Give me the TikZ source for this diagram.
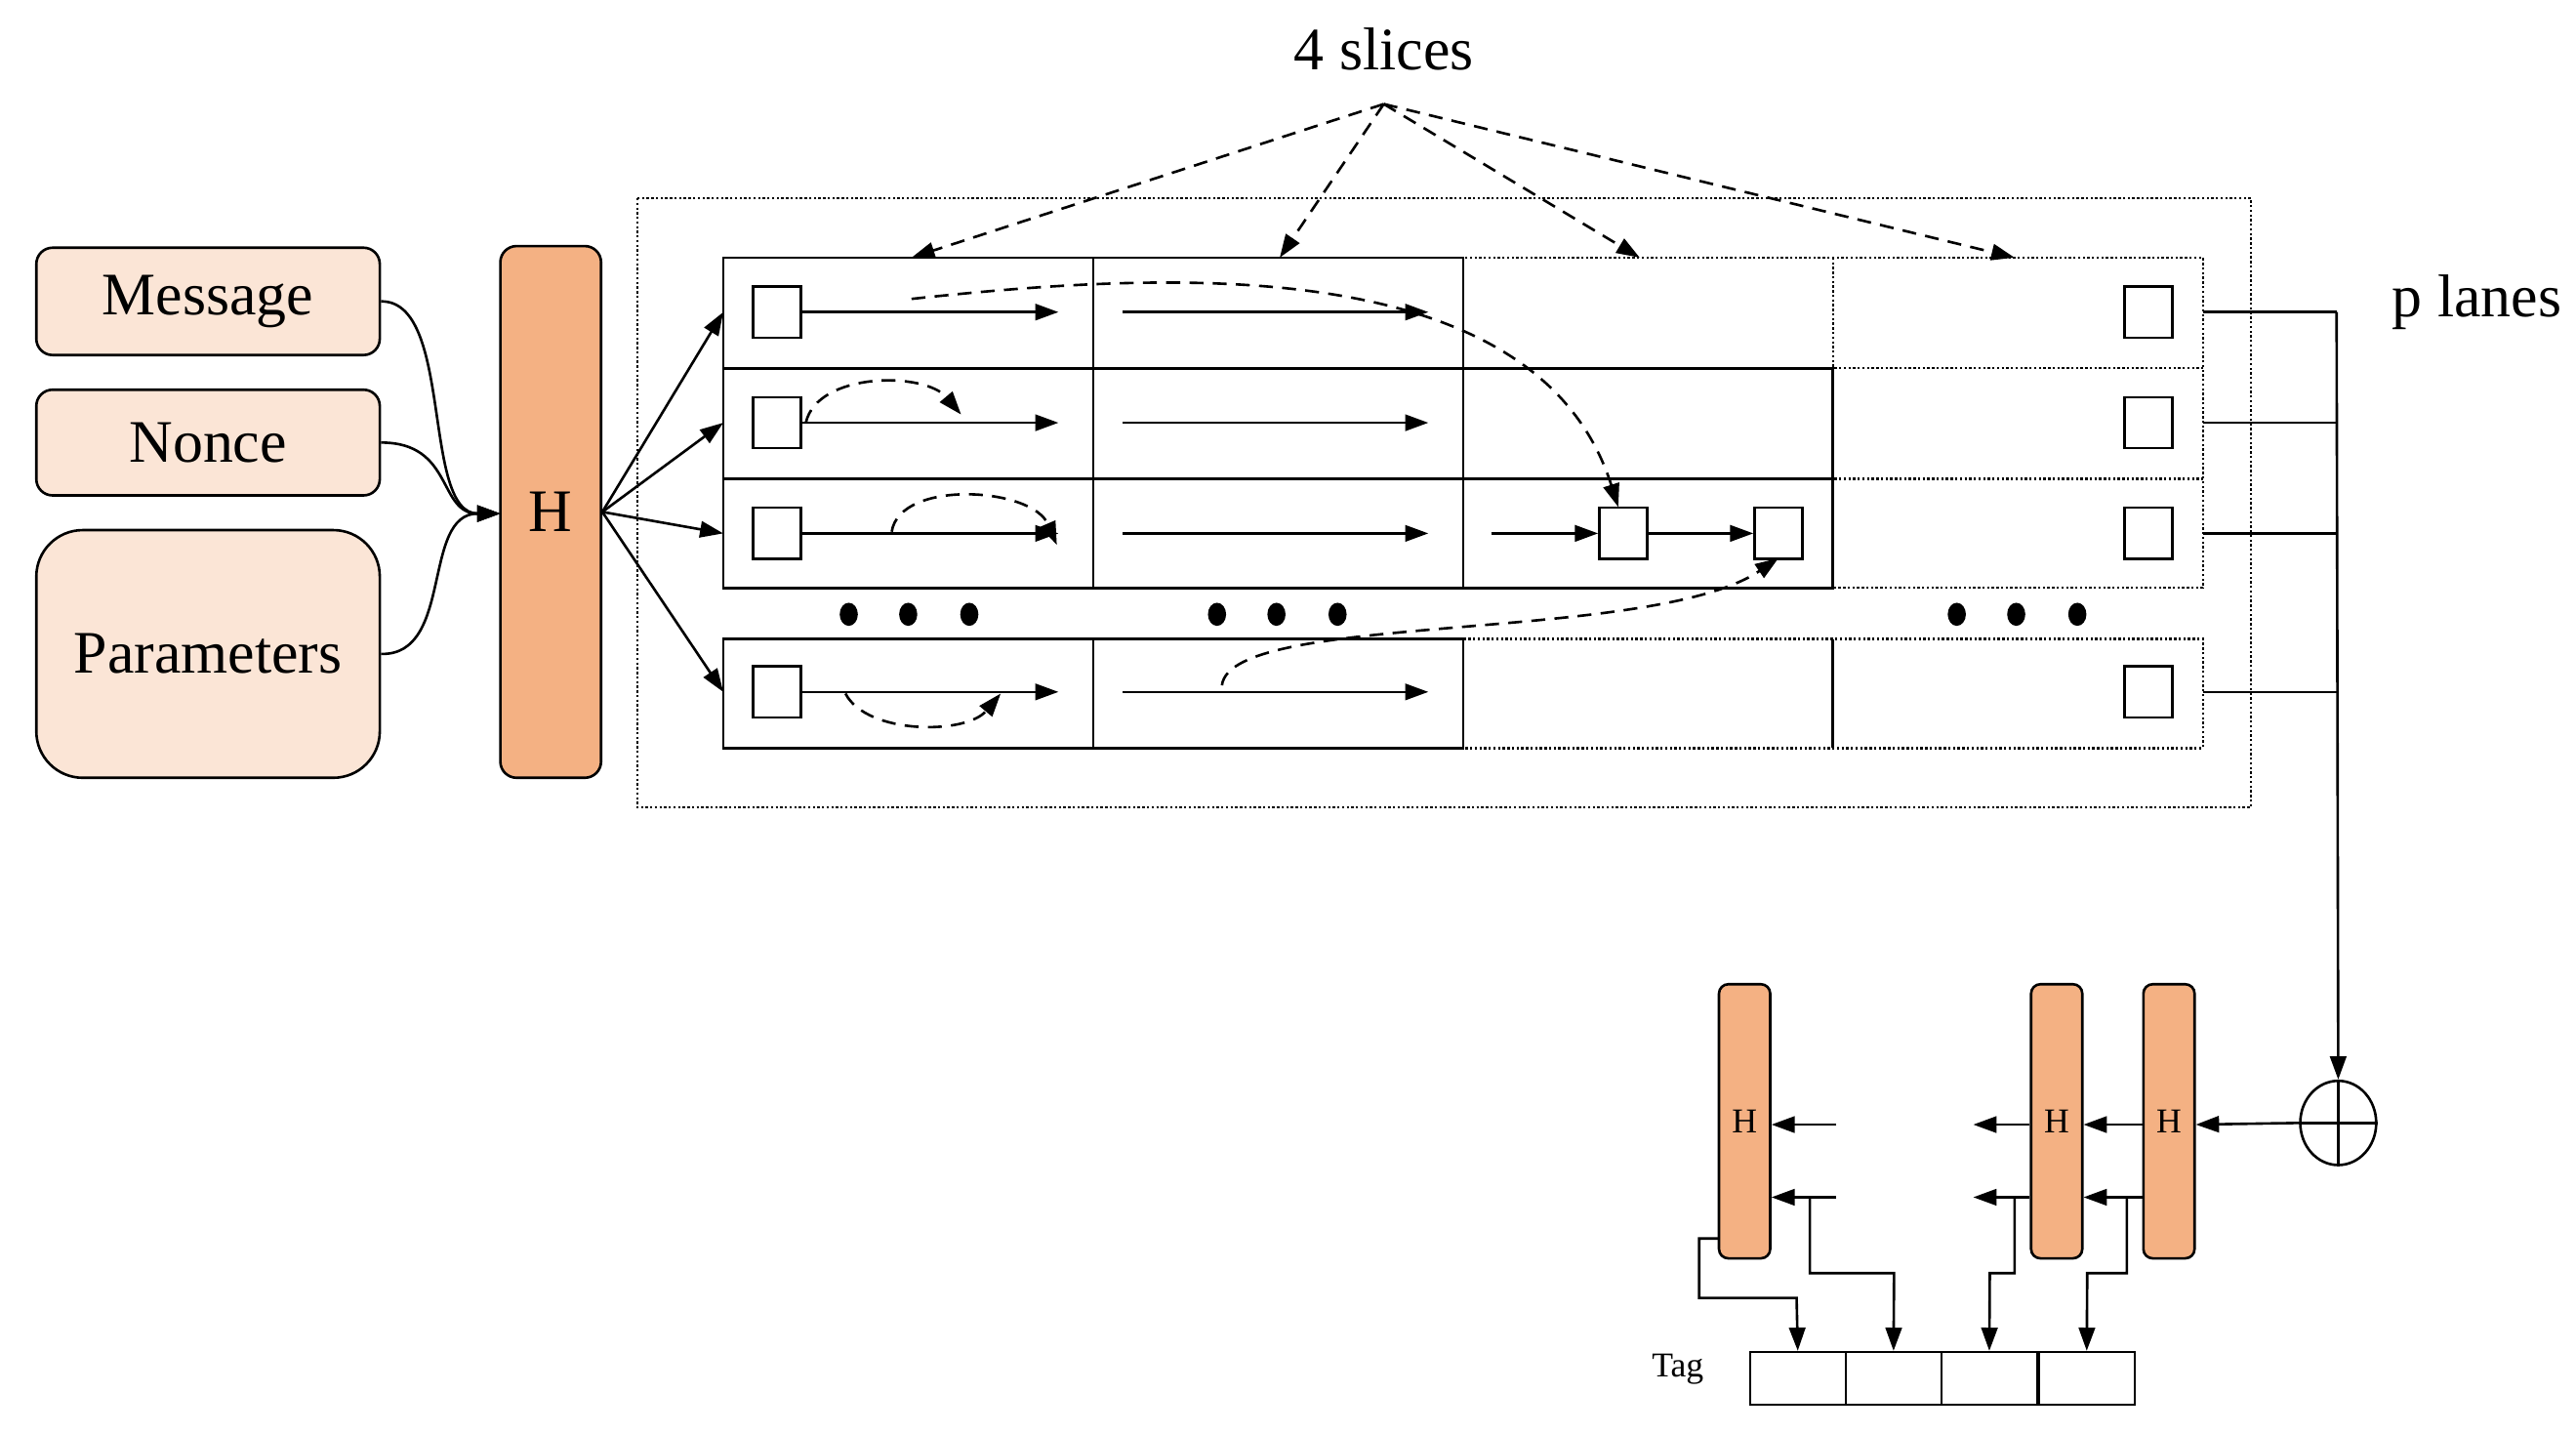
\documentclass[tikz,border=0pt]{standalone}
\usepackage{fontspec}
\setmainfont{Liberation Serif}
\usetikzlibrary{arrows.meta,shapes.geometric}
\definecolor{lightp}{HTML}{FBE5D6}
\definecolor{orng}{HTML}{F4B183}
\begin{document}
\begin{tikzpicture}[x=0.05cm,y=-0.05cm,line width=2.2pt,
  big/.style={font=\fontsize{52}{60}\selectfont},
  sm/.style={font=\fontsize{30}{34}\selectfont},
  inbox/.style={draw,rounded corners=14pt,fill=lightp,line width=2.2pt,big},
  hbox/.style={draw,rounded corners=8pt,fill=orng,line width=2.2pt},
  sq/.style={draw,line width=2pt,minimum width=1.45cm,minimum height=1.55cm,inner sep=0pt,fill=white},
  arr/.style={-{Triangle[length=20pt,width=14pt]},line width=2.2pt},
  darr/.style={-{Triangle[length=20pt,width=14pt]},line width=2.2pt,dash pattern=on 12pt off 8pt},
  dots/.style={dotted,line width=2pt}]
\useasboundingbox (0,0) rectangle (1560,868);
% inputs
\node[inbox,minimum width=10.4cm,minimum height=3.25cm] (msg) at (126,182.5) {Message};
\node[inbox,minimum width=10.4cm,minimum height=3.2cm] (non) at (126,268) {Nonce};
\node[inbox,rounded corners=40pt,minimum width=10.4cm,minimum height=7.5cm] (par) at (126,396) {Parameters};
\node[hbox,rounded corners=14pt,minimum width=3.05cm,minimum height=16.1cm,big] (H) at (333.5,310) {H};
\draw[arr] (msg.east) .. controls (275,182) and (255,311) .. (303,311);
\draw[arr] (non.east) .. controls (275,268) and (265,311) .. (303,311);
\draw[arr] (par.east) .. controls (275,397) and (255,311) .. (303,311);
% outer box
\draw[dots] (386,120) rectangle (1363,489);
% grid dotted parts
\draw[dots] (886,156) rectangle (1334,356);
\draw[dots] (886,223) -- (1334,223) (886,290) -- (1334,290) (1110,156) -- (1110,356);
\draw[dots] (886,387) rectangle (1334,453);
% solid parts
\draw (438,156) rectangle (886,356);
\draw (438,223) -- (886,223) (438,290) -- (886,290) (662,156) -- (662,356);
\draw (886,223) rectangle (1110,356) (886,290) -- (1110,290);
\draw (438,387) rectangle (886,453) (662,387) -- (662,453) (1110,387) -- (1110,453);
% squares
\foreach \y/\n in {189/a,256/b,323/c,419/d}{
  \node[sq] (l\n) at (470.5,\y) {};
  \node[sq] (r\n) at (1301,\y) {};
  \coordinate (e\n) at (438,\y);
  \draw[arr] (l\n.east) -- (641,\y);
  \draw[arr] (680,\y) -- (865,\y);
  \draw (1334,\y) -- (1415,\y);
}
\node[sq] (m1) at (983,323) {};
\node[sq] (m2) at (1077,323) {};
\draw[arr] (903,323) -- (m1.west);
\draw[arr] (m1.east) -- (m2.west);
\foreach \n in {a,b,c,d}{\draw[arr] (H.east) -- (e\n);}
% dashed curves
\draw[darr] (552,181) .. controls (700,165) and (930,150) .. (980,307);
\draw[darr] (488,256) .. controls (495,225) and (560,225) .. (582,251);
\draw[darr] (540,322) .. controls (545,290) and (625,295) .. (640,330);
\draw[darr] (512,420) .. controls (525,445) and (585,445) .. (606,420);
\draw[darr] (740,415) .. controls (745,370) and (1000,390) .. (1077,338);
% dots
\foreach \x in {514,550,587,737,773,810,1185,1221,1258}{\fill (\x,372) ellipse (5.5 and 7);}
% labels
\node[big] (sl) at (838,30) {4 slices};
\coordinate (sp) at (838,63);
\foreach \x in {552,775,993,1220}{\draw[darr] (sp) -- (\x,156);}
\node[big] at (1500,183) {p lanes};
% xor
\node[draw,ellipse,minimum width=2.3cm,minimum height=2.55cm,line width=2.2pt,inner sep=0pt] (x) at (1416,680) {};
\draw (x.north) -- (x.south) (x.west) -- (x.east);
\draw[arr] (1415,189) -- (x.north);
% small H boxes
\node[hbox,minimum width=1.55cm,minimum height=8.3cm,sm] (h1) at (1056.5,679) {H};
\node[hbox,minimum width=1.55cm,minimum height=8.3cm,sm] (h2) at (1245.5,679) {H};
\node[hbox,minimum width=1.55cm,minimum height=8.3cm,sm] (h3) at (1313.5,679) {H};
\draw[arr] (x.west) -- (h3.east|-0,681);
\foreach \y in {681,725}{
  \draw[arr] (h3.west|-0,\y) -- (h2.east|-0,\y);
  \draw[arr] (h2.west|-0,\y) -- (1195,\y);
  \draw[arr] (1112,\y) -- (h1.east|-0,\y);
}
% tag
\node[sm] at (1016,829) {Tag};
\foreach \i/\x in {1/1059,2/1117,3/1175,4/1234}{
  \node[draw,line width=2pt,minimum width=2.9cm,minimum height=1.6cm,inner sep=0pt,anchor=north west] (t\i) at (\x,818) {};
}
\draw[arr] (1041,750) -- (1029,750) -- (1029,786) -- (1088,786) -- (t1.north);
\draw[arr] (1096,725) -- (1096,771) -- (1147,771) -- (t2.north);
\draw[arr] (1220,725) -- (1220,771) -- (1205,771) -- (t3.north);
\draw[arr] (1288,725) -- (1288,771) -- (1264,771) -- (t4.north);
\end{tikzpicture}
\end{document}
